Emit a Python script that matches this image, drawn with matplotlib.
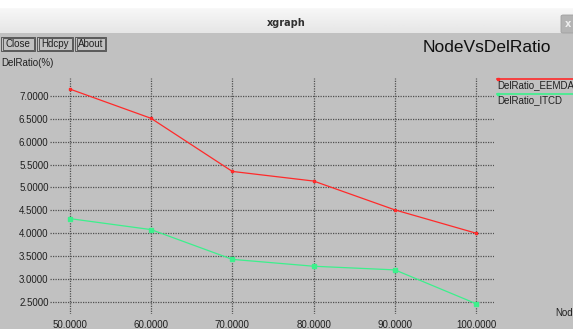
import numpy as np
import matplotlib
matplotlib.use("Agg")
import matplotlib.pyplot as plt
from matplotlib.patches import Rectangle, FancyBboxPatch
from matplotlib.lines import Line2D

# Data
nodes = [50, 60, 70, 80, 90, 100]
eemda = [7.15, 6.51, 5.35, 5.14, 4.51, 4.00]
itcd = [4.32, 4.08, 3.43, 3.28, 3.20, 2.46]
x_ticks = [50, 60, 70, 80, 90, 100]
y_ticks = [2.5, 3.0, 3.5, 4.0, 4.5, 5.0, 5.5, 6.0, 6.5, 7.0]
series_names = ["DelRatio_EEMDA", "DelRatio_ITCD"]

W, H = 573, 329
BG = "#c1c1c1"
RED = "#ff2a2a"
GREEN = "#3cf08c"
FONT = "Liberation Sans"

fig = plt.figure(figsize=(W / 100, H / 100), dpi=100, facecolor=BG)


def fx(x):
    return x / W


def fy(y):
    return 1 - y / H


# Window title bar with a soft vertical gradient
bar = fig.add_axes([0, fy(33), 1, 33 / H])
bar.axis("off")
grad = np.linspace(0.99, 0.90, 64).reshape(-1, 1)
grad[:16] = 1.0
bar.imshow(grad, cmap="gray", vmin=0, vmax=1, aspect="auto",
           extent=[0, 1, 0, 1])
bar.set_xlim(0, 1)
bar.set_ylim(0, 1)
fig.text(0.5, fy(23), "xgraph", ha="center", va="center", fontsize=7,
         fontweight="bold", family="DejaVu Sans", color="#303030")
fig.patches.append(FancyBboxPatch((fx(561), fy(33)), fx(16), 18 / H,
                                  boxstyle="round,pad=0,rounding_size=0.004",
                                  transform=fig.transFigure,
                                  facecolor="#b4b4b4", edgecolor="#a0a0a0",
                                  linewidth=0.6))
fig.text(fx(568), fy(24), "x", ha="center", va="center", fontsize=7,
         color="#eeeeee", family="DejaVu Sans", fontweight="bold")

# Buttons
for label, x0, x1 in [("Close", 1, 35), ("Hdcpy", 37, 73), ("About", 75, 106)]:
    for inset in (0, 1.5):
        fig.patches.append(Rectangle((fx(x0 + inset), fy(51 - inset)),
                                     fx(x1 - x0 - 2 * inset), (14 - 2 * inset) / H,
                                     transform=fig.transFigure,
                                     facecolor="none", edgecolor="#303030",
                                     linewidth=0.5))
    fig.text(fx((x0 + x1) / 2), fy(44), label, ha="center", va="center",
             fontsize=7, family=FONT, color="#202020")

fig.text(fx(1), fy(63), "DelRatio(%)", ha="left", va="center", fontsize=7,
         family=FONT, color="#202020")
fig.text(fx(423), fy(47), "NodeVsDelRatio", ha="left", va="center",
         fontsize=12.5, family=FONT, color="#101010")
fig.text(fx(555), fy(313), "Node", ha="left", va="center", fontsize=7,
         family=FONT, color="#202020")

# Plot area
ax = fig.add_axes([fx(50), fy(314), fx(494 - 50), (314 - 78) / H])
ax.set_facecolor(BG)
ax.set_xlim(47.58, 102.18)
ax.set_ylim(2.237, 7.39)
for s in ax.spines.values():
    s.set_visible(False)
ax.set_xticks(x_ticks)
ax.set_yticks(y_ticks)
ax.set_xticklabels([f"{v:.4f}" for v in x_ticks])
ax.set_yticklabels([f"{v:.4f}" for v in y_ticks])
ax.tick_params(length=0, labelsize=7, labelcolor="#202020")
ax.tick_params(axis="x", pad=4)
ax.tick_params(axis="y", pad=1)
for lab in ax.get_xticklabels() + ax.get_yticklabels():
    lab.set_family(FONT)
ax.grid(True, color="#505050", linestyle=(0, (1, 1)), linewidth=0.9)
ax.set_axisbelow(True)

ax.plot(nodes, eemda, color=RED, linewidth=0.9, marker="s", markersize=2,
        clip_on=False)
ax.plot(nodes, itcd, color=GREEN, linewidth=0.9, marker="s", markersize=2.4,
        clip_on=False)

# Legend entries at the right edge
for name, color, ly in [(series_names[0], RED, 79), (series_names[1], GREEN, 94)]:
    fig.lines.append(Line2D([fx(497), fx(580)], [fy(ly), fy(ly)],
                            transform=fig.transFigure, color=color,
                            linewidth=1.2))
    fig.lines.append(Line2D([fx(498)], [fy(ly)], transform=fig.transFigure,
                            color=color, marker="s", markersize=2))
    fig.text(fx(497), fy(ly + 6.5), name, ha="left", va="center", fontsize=7,
             family=FONT, color="#202020")

fig.savefig("out.png", dpi=100, facecolor=BG)
